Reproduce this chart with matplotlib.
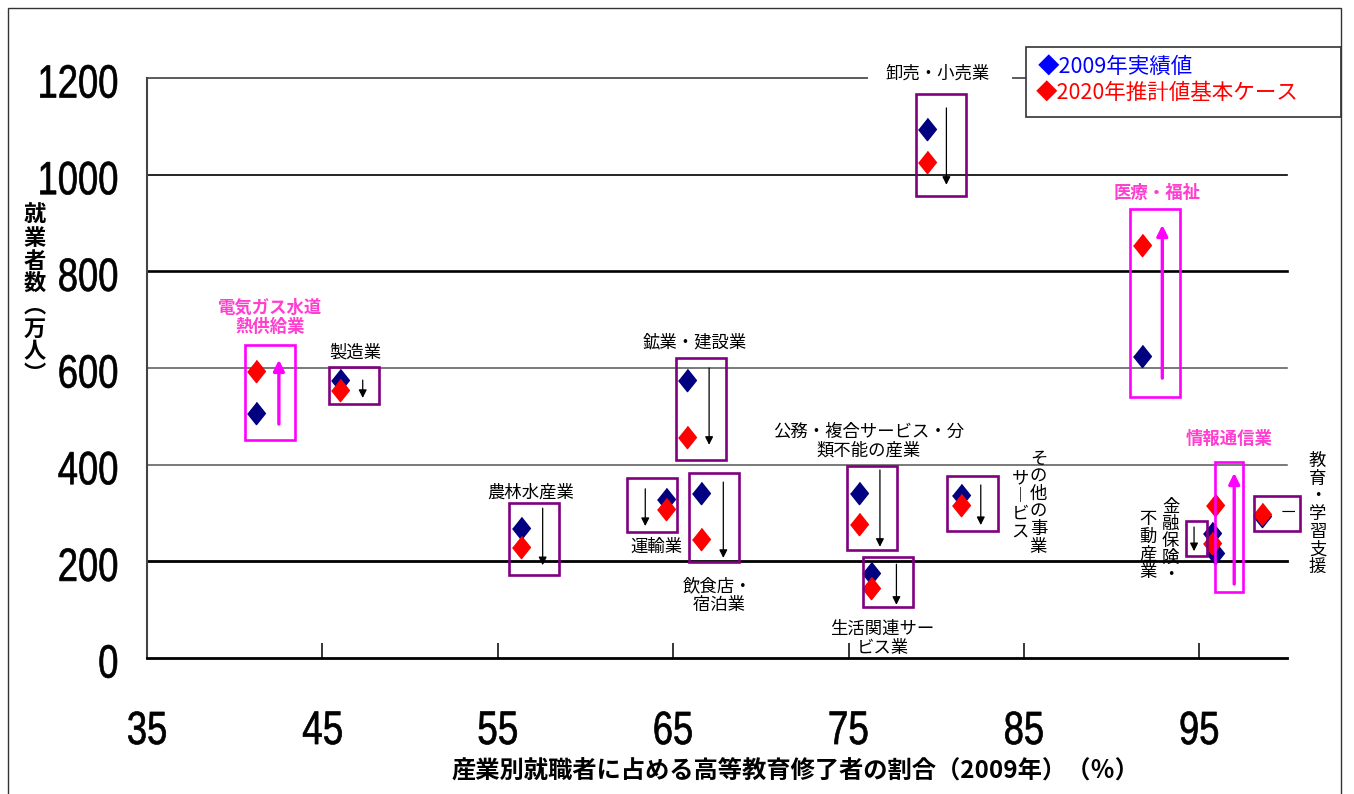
"""
産業別就業者数と高等教育修了者割合（2009年実績 / 2020年推計）
"""
import matplotlib
matplotlib.use("Agg")
import matplotlib.pyplot as plt
from matplotlib import font_manager
from matplotlib.font_manager import FontProperties
from matplotlib.patches import Rectangle, PathPatch
from matplotlib.textpath import TextPath
from matplotlib.transforms import Affine2D, ScaledTranslation, blended_transform_factory

plt.rcParams["font.family"] = ["Noto Sans CJK JP", "DejaVu Sans"]

# ─────────────────────────────────────────────────────────────
# データ
# ─────────────────────────────────────────────────────────────
SECTORS = ["電気ガス水道熱供給業", "製造業", "農林水産業", "運輸業", "鉱業・建設業",
           "飲食店・宿泊業", "公務・複合サービス・分類不能の産業", "生活関連サービス業",
           "卸売・小売業", "医療・福祉", "その他の事業サービス", "金融保険・不動産業",
           "情報通信業", "教育・学習支援"]
SHARE_2009 = [41.2, 46.0, 56.35, 64.6, 65.8, 66.6, 75.6, 76.3,
              79.5, 91.75, 81.4, 95.7, 95.9, 98.6]
EMP_2009 = [507, 575, 269, 329, 575, 341, 341, 176, 1094, 625, 337, 259, 217, 294]
EMP_2020 = [594, 555, 230, 308, 457, 246, 277, 145, 1026, 854, 317, 238, 317, 298]

X_TICKS = [35, 45, 55, 65, 75, 85, 95]
Y_TICKS = [0, 200, 400, 600, 800, 1000, 1200]

# ─────────────────────────────────────────────────────────────
# 注記レイアウト（点からの相対位置）
#   box: (dx0, dx1, pad_below, pad_above), arrow: (dx, pad_start, pad_end)
# ─────────────────────────────────────────────────────────────
PURPLE, MAGENTA, PINK = "#800080", "#FF00FF", "#FF3FCF"
ANNOT = [
    ((-0.62, 2.23, 56, 54), (1.32, 23, 23), MAGENTA),
    ((-0.63, 2.22, 29, 27), (1.30, 0, 17), PURPLE),
    ((-0.72, 2.13, 58, 52), (1.21, 41, 38), PURPLE),
    ((-2.22, 0.63, 47, 43), (-1.19, 21, 35), PURPLE),
    ((-0.63, 2.22, 47, 46), (1.25, 25, 16), PURPLE),
    ((-0.68, 2.17, 47, 42), (1.26, 23, 39), PURPLE),
    ((-0.69, 2.16, 54, 56), (1.19, 48, 47), PURPLE),
    ((-0.50, 2.35, 39, 33), (1.43, 18, 35), PURPLE),
    ((-0.68, 2.17, 70, 73), (1.08, 44, 47), PURPLE),
    ((-0.68, 2.17, 85, 75), (1.14, 46, 42), MAGENTA),
    ((-0.80, 2.11, 54, 40), (1.14, 21, 42), PURPLE),
    ((-1.44, -0.25, 27, 24), (-1.00, 12, 17), PURPLE),
    ((0.00, 1.60, 80, 89), (1.09, 64, 66), MAGENTA),
    ((-0.47, 2.16, 31, 37), None, PURPLE),
]


def vert(s):
    """縦書き用：1文字ずつ改行、長音は縦棒に。"""
    return "\n".join("︱" if c == "ー" else c for c in s)


# (text, x, y, color, bold, linespacing)
LABELS = [
    ("電気ガス水道\n熱供給業", 42.02, 705, PINK, True, 1.05),
    ("製造業", 46.87, 633, "black", False, 1.0),
    ("鉱業・建設業", 66.26, 654, "black", False, 1.0),
    ("農林水産業", 56.9, 343, "black", False, 1.0),
    ("運輸業", 64.04, 230, "black", False, 1.0),
    ("飲食店・\n 宿泊業", 67.5, 130, "black", False, 1.05),
    ("公務・複合サービス・分\n類不能の産業", 76.13, 449, "black", False, 1.05),
    ("生活関連サー\nビス業", 76.93, 41, "black", False, 1.05),
    ("卸売・小売業", 80.07, 1210, "black", False, 1.0),
    ("医療・福祉", 92.6, 962, PINK, True, 1.0),
    ("情報通信業", 96.72, 453, PINK, True, 1.0),
    (vert("その他の事業"), 85.83, 321, "black", False, 0.98),
    (vert("サービス"), 84.8, 317, "black", False, 0.98),
    (vert("金融保険・"), 93.36, 242, "black", False, 0.92),
    (vert("不動産業"), 92.1, 232, "black", False, 0.98),
    (vert("教育・学習支援"), 101.74, 298, "black", False, 0.98),
    ("－", 100.1, 300, "black", False, 1.0),
]

# 格子線 (値, 色, 太さ)
GRID = [(200, "black", 2.0), (400, "#555555", 1.1), (600, "#555555", 1.1),
        (800, "black", 1.9), (1000, "black", 1.2), (1200, "#404040", 1.2)]

avail = {f.name for f in font_manager.fontManager.ttflist}
NUM_FONT = next((f for f in ["Liberation Sans Narrow", "Arial Narrow", "Liberation Sans"]
                 if f in avail), "DejaVu Sans")
NUM_PROP = FontProperties(family=NUM_FONT)
NUM_COND = 1.0 if "Narrow" in NUM_FONT else 0.78   # 細長い数字にするための横圧縮

DIAMOND = [(0, 1), (0.8, 0), (0, -1), (-0.8, 0)]

W, H = 1354, 794
fig = plt.figure(figsize=(W / 100, H / 100), dpi=100)
ax = fig.add_axes([147 / W, 136 / H, 1140 / W, 580 / H])


def narrow_label(s, x, y, trans, ha, dx, dy, h_px=33):
    """横に詰めた数字ラベルをパスとして描く（dx, dy はピクセル）。"""
    tp = TextPath((0, 0), s, size=100, prop=NUM_PROP)
    bb = tp.get_extents()
    k = h_px / bb.height
    w = bb.width * k * NUM_COND
    ox = -w if ha == "right" else -w / 2
    t = (Affine2D().translate(-bb.x0, -bb.y0).scale(k * NUM_COND, k)
         .translate(ox + dx, -h_px / 2 + dy) + ScaledTranslation(x, y, trans))
    fig.add_artist(PathPatch(tp, transform=t, fc="black", ec="black", lw=0.5))


for val, col, lw in GRID:
    ax.axhline(val, color=col, lw=lw, zorder=1, clip_on=False)

# 卸売・小売業ラベルの下の格子線を白で隠す
ax.add_patch(Rectangle((76.1, 1194), 8.2, 12, fc="white", ec="none",
                       zorder=2, clip_on=False))

ax.plot(SHARE_2009, EMP_2009, ls="none", marker=DIAMOND, ms=16,
        color="#000080", mec="#000080", zorder=3, clip_on=False)
ax.plot(SHARE_2009, EMP_2020, ls="none", marker=DIAMOND, ms=16,
        color="#FF0000", mec="#FF0000", zorder=4, clip_on=False)

for x, v09, v20, (box, arrow, col) in zip(SHARE_2009, EMP_2009, EMP_2020, ANNOT):
    dx0, dx1, lo, hi = box
    y0, y1 = min(v09, v20) - lo, max(v09, v20) + hi
    ax.add_patch(Rectangle((x + dx0, y0), dx1 - dx0, y1 - y0, fill=False,
                           ec=col, lw=1.9, zorder=5, clip_on=False))
    if arrow is None:
        continue
    adx, s, e = arrow
    d = 1 if v20 > v09 else -1
    magenta = col == MAGENTA
    ax.annotate("", xy=(x + adx, v20 + d * e), xytext=(x + adx, v09 - d * s),
                arrowprops=dict(arrowstyle="-|>", color=MAGENTA if magenta else "black",
                                lw=2.4 if magenta else 0.9,
                                mutation_scale=16 if magenta else 12,
                                shrinkA=0, shrinkB=0),
                zorder=6, annotation_clip=False)

for txt, x, y, col, bold, ls in LABELS:
    ax.text(x, y, txt, color=col, fontsize=12.5, ha="center", va="center",
            fontweight="bold" if bold else "normal", linespacing=ls,
            zorder=7, clip_on=False)

ax.set_xlim(35, 100)
ax.set_ylim(0, 1200)
ax.set_xticks(X_TICKS)
ax.set_yticks(Y_TICKS)
ax.tick_params(axis="x", direction="in", length=10.8, width=1.1, labelbottom=False)
ax.tick_params(axis="y", length=0, labelleft=False)

y_trans = blended_transform_factory(ax.transAxes, ax.transData)
x_trans = blended_transform_factory(ax.transData, ax.transAxes)
for v in Y_TICKS:
    narrow_label(str(v), 0, v, y_trans, "right", -30, -3.5)
for v in X_TICKS:
    narrow_label(str(v), v, 0, x_trans, "center", 0, -70)

for side in ("top", "right"):
    ax.spines[side].set_visible(False)
ax.spines["left"].set_color("#444444")
ax.spines["left"].set_linewidth(1.5)
ax.spines["bottom"].set_color("black")
ax.spines["bottom"].set_linewidth(2.0)

# 軸ラベル
fig.text(35 / W, 1 - 295 / H, "就\n業\n者\n数\n︵\n万\n人\n︶", fontsize=16,
         fontweight="bold", ha="center", va="center", linespacing=0.98)
fig.text(795 / W, 1 - 772 / H,
         "産業別就職者に占める高等教育修了者の割合（2009年）（％）",
         fontsize=17.5, fontweight="bold", ha="center", va="center")

# 凡例
fig.add_artist(Rectangle((1026 / W, 1 - 117 / H), 315 / W, 70 / H,
                         transform=fig.transFigure, fc="white", ec="#333333",
                         lw=1.2, zorder=10))
fig.text(1038 / W, 1 - 68 / H, "◆2009年実績値", color="#0000FF", fontsize=15.5,
         ha="left", va="center", zorder=11)
fig.text(1036 / W, 1 - 94 / H, "◆2020年推計値基本ケース", color="#FF0000",
         fontsize=15.5, ha="left", va="center", zorder=11)

# 外枠
fig.add_artist(Rectangle((8 / W, -0.02), 1333 / W, 1.02 - 8 / H,
                         transform=fig.transFigure, fill=False, ec="#333333",
                         lw=1.0, zorder=12))

fig.savefig("out.png", dpi=100)
